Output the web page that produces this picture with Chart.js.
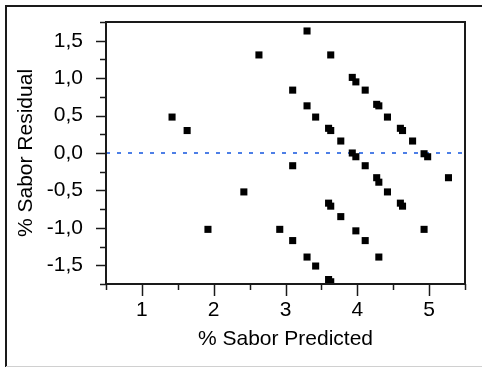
<!DOCTYPE html>
<html><head><meta charset="utf-8">
<script src="https://cdn.jsdelivr.net/npm/chart.js@4"></script>
<style>html,body{margin:0;padding:0;background:#fff;overflow:hidden;}#wrap{width:482px;height:367px;position:relative;}</style>
</head><body><div id="wrap"><canvas id="c" width="482" height="367"></canvas></div>
<script>
// Data
const predicted = [1.42,1.63,1.92,2.42,2.63,2.92,3.10,3.10,3.10,3.30,3.30,3.30,3.42,3.42,3.60,3.63,3.60,3.63,3.60,3.63,3.63,3.77,3.77,3.93,3.98,3.93,3.98,3.98,4.11,4.11,4.11,4.27,4.30,4.27,4.30,4.30,4.42,4.42,4.60,4.63,4.60,4.63,4.77,4.93,4.98,4.93,5.27];
const residual  = [0.48,0.30,-1.02,-0.52,1.31,-1.02,0.84,-0.17,-1.17,1.63,0.63,-1.39,0.48,-1.51,0.33,0.30,-0.67,-0.71,-1.69,-1.72,1.31,0.16,-0.85,1.01,0.95,0.00,-0.05,-1.04,0.84,-0.17,-1.17,0.65,0.63,-0.33,-0.39,-1.39,0.48,-0.52,0.33,0.30,-0.67,-0.71,0.16,-0.01,-0.05,-1.02,-0.33];
const zeroLineX = [0.5, 5.5];
const zeroLineY = [0, 0];
const xLabel = '% Sabor Predicted';
const yLabel = '% Sabor Residual';

const FONT = 'Liberation Sans, Arial, sans-serif';
const FS = 21;
const fmt = v => v.toFixed(1).replace('.', ',');

const framePlugin = {
  id: 'frame',
  beforeDraw(chart) {
    const ctx = chart.ctx;
    ctx.save();
    ctx.fillStyle = '#fff';
    ctx.fillRect(0, 0, chart.width, chart.height);
    ctx.restore();
  },
  afterDraw(chart) {
    const ctx = chart.ctx, a = chart.chartArea;
    const xs = chart.scales.x, ys = chart.scales.y;
    ctx.save();
    // outer frame
    ctx.strokeStyle = '#1a1a1a';
    ctx.lineWidth = 2;
    ctx.beginPath();
    ctx.moveTo(6, 367); ctx.lineTo(6, 6); ctx.lineTo(482, 6);
    ctx.stroke();
    ctx.strokeStyle = '#d0d0d0';
    ctx.lineWidth = 1;
    ctx.beginPath(); ctx.moveTo(6, 366.5); ctx.lineTo(482, 366.5); ctx.stroke();
    // plot box
    ctx.strokeStyle = '#1a1a1a';
    ctx.lineWidth = 2;
    ctx.strokeRect(a.left, a.top, a.right - a.left, a.bottom - a.top);
    // ticks
    ctx.lineWidth = 1.5;
    for (let v = -1.75; v <= 1.7501; v += 0.25) {
      const y = Math.round(ys.getPixelForValue(v)) + 0.5;
      const major = Math.abs(v * 2 - Math.round(v * 2)) < 1e-6;
      const len = major ? 10 : 6;
      ctx.beginPath(); ctx.moveTo(a.left - len, y); ctx.lineTo(a.left, y); ctx.stroke();
    }
    for (let v = 0.5; v <= 5.5001; v += 0.5) {
      const x = Math.round(xs.getPixelForValue(v)) + 0.5;
      const major = Math.abs(v - Math.round(v)) < 1e-6;
      const len = major ? 12 : 6;
      ctx.beginPath(); ctx.moveTo(x, a.bottom); ctx.lineTo(x, a.bottom + len); ctx.stroke();
    }
    ctx.restore();
  }
};

new Chart(document.getElementById('c'), {
  type: 'scatter',
  data: {
    datasets: [
      {
        label: 'Residual',
        data: predicted.map((x, i) => ({x, y: residual[i]})),
        pointStyle: 'rect',
        pointRadius: 5,
        pointBorderWidth: 0,
        backgroundColor: '#000',
        borderColor: '#000',
        showLine: false
      },
      {
        label: 'Zero',
        data: zeroLineX.map((x, i) => ({x, y: zeroLineY[i]})),
        showLine: true,
        borderColor: '#4d7fe6',
        borderWidth: 2,
        borderDash: [4, 7],
        pointRadius: 0,
        fill: false
      }
    ]
  },
  options: {
    responsive: false,
    animation: false,
    events: [],
    layout: { padding: { top: 22, right: 17, left: 0, bottom: 0 } },
    plugins: { legend: { display: false }, tooltip: { enabled: false } },
    scales: {
      x: {
        type: 'linear', min: 0.5, max: 5.5,
        grid: { display: false, drawTicks: false },
        border: { display: false },
        ticks: {
          stepSize: 0.5,
          autoSkip: false,
          maxRotation: 0,
          padding: 14,
          color: '#000',
          font: { family: FONT, size: FS },
          callback: v => (Math.abs(v - Math.round(v)) < 1e-6 && v >= 1 && v <= 5) ? String(Math.round(v)) : ''
        },
        title: { display: true, text: xLabel, color: '#000', font: { family: FONT, size: FS }, padding: { top: 0, bottom: 15 } },
        afterFit: s => { s.height = 83; s.paddingLeft = 0; s.paddingRight = 0; s.paddingTop = 0; s.paddingBottom = 0; }
      },
      y: {
        type: 'linear', min: -1.75, max: 1.75,
        grid: { display: false, drawTicks: false },
        border: { display: false },
        ticks: {
          stepSize: 0.25,
          autoSkip: false,
          padding: 23,
          color: '#000',
          font: { family: FONT, size: FS },
          callback: v => (Math.abs(v * 2 - Math.round(v * 2)) < 1e-6 && Math.abs(v) <= 1.5) ? fmt(v) : ''
        },
        title: { display: true, text: yLabel, color: '#000', font: { family: FONT, size: FS }, padding: { top: 14, bottom: 0 } },
        afterFit: s => { s.width = 106; s.paddingTop = 0; s.paddingBottom = 0; s.paddingLeft = 0; s.paddingRight = 0; }
      }
    }
  },
  plugins: [framePlugin]
});
</script>
</body></html>
